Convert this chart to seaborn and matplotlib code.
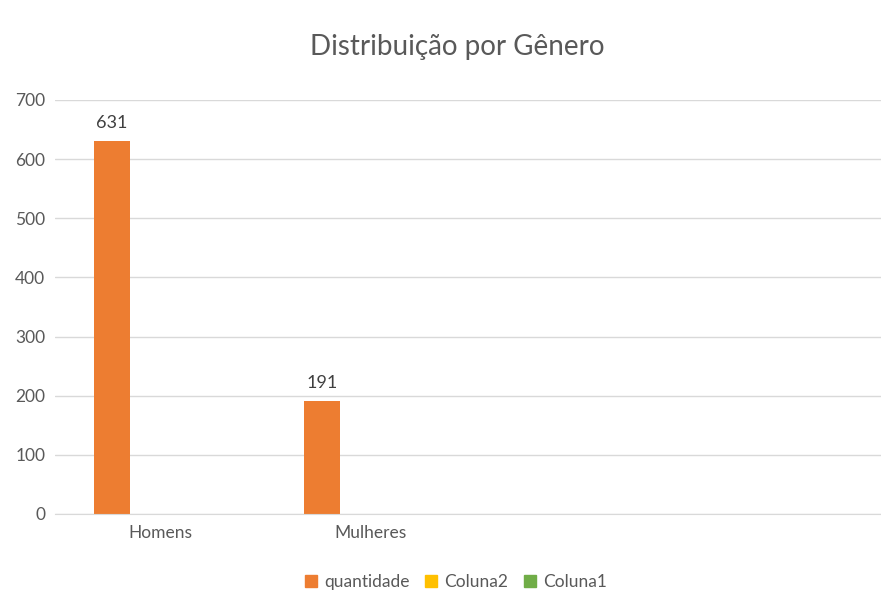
import pandas as pd
import matplotlib.pyplot as plt
import seaborn as sns
from matplotlib.patches import Patch

# data (Coluna2 / Coluna1 have no values)
categorias = ["Homens", "Mulheres"]
quantidade = [631, 191]
coluna2 = [0, 0]
coluna1 = [0, 0]
series = ["quantidade", "Coluna2", "Coluna1"]
cores = ["#ED7D31", "#FFC000", "#70AD47"]

df = pd.DataFrame({
    "categoria": categorias * 3,
    "serie": ["quantidade"] * 2 + ["Coluna2"] * 2 + ["Coluna1"] * 2,
    "valor": quantidade + coluna2 + coluna1,
})

sns.set_style("white")
plt.rcParams["font.family"] = ["Lato", "DejaVu Sans"]

fig = plt.figure(figsize=(8.81, 5.98), dpi=100)
ax = fig.add_axes([55 / 881, 84 / 598, 1 - 55 / 881, 414 / 598])

sns.barplot(data=df, x="categoria", y="valor", hue="serie", order=categorias,
            hue_order=series, palette=cores, width=0.514, ax=ax,
            errorbar=None, legend=False, saturation=1, linewidth=0)

# only the first series has labels
ax.bar_label(ax.containers[0], padding=7, fontsize=13, color="#404040")

ax.set_ylim(0, 700)
ax.set_yticks(range(0, 701, 100))
ax.set_xlim(-0.443, 3.49)
ax.set_xticks([i + 0.057 for i in range(len(categorias))])
ax.set_xticklabels(categorias)
ax.grid(axis="y", color="#D9D9D9", linewidth=1)
ax.set_axisbelow(True)
ax.set_xlabel("")
ax.set_ylabel("")
for s in ["top", "right", "left"]:
    ax.spines[s].set_visible(False)
ax.spines["bottom"].set_color("#D9D9D9")
ax.tick_params(axis="both", length=0, labelsize=12.5, colors="#595959")
ax.tick_params(axis="y", pad=7)
ax.tick_params(axis="x", pad=8)

fig.text(457 / 881, 1 - 47 / 598, "Distribuição por Gênero", ha="center",
         va="center", fontsize=20, color="#595959")

handles = [Patch(color=c, label=s) for c, s in zip(cores, series)]
fig.legend(handles=handles, loc="center", bbox_to_anchor=(456 / 881, 1 - 582 / 598),
           ncol=3, frameon=False, fontsize=12.5, labelcolor="#595959",
           handlelength=0.7, handleheight=0.7, handletextpad=0.4, columnspacing=0.9)

fig.savefig("out.png", dpi=100, facecolor="white")
